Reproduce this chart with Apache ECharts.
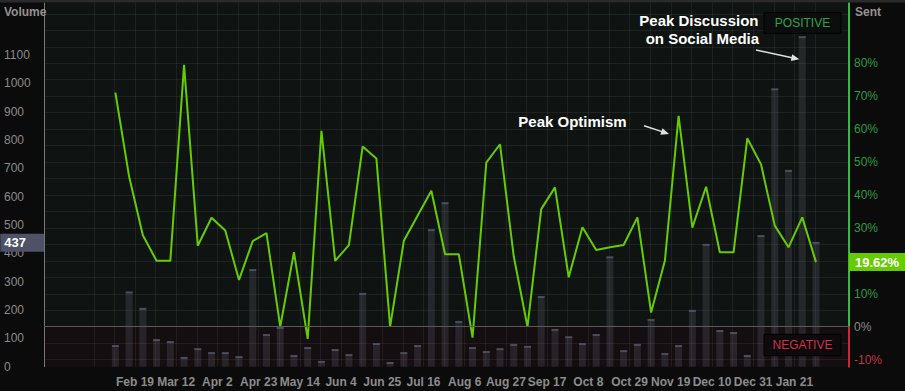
<!DOCTYPE html>
<html><head><meta charset="utf-8">
<script src="https://cdn.jsdelivr.net/npm/echarts@6/dist/echarts.min.js"></script>
<style>html,body{margin:0;padding:0;background:#0b0b0b;}#c{width:905px;height:391px;}</style>
</head><body><div id="c"></div>
<script>
// ---- data ----
const weekDates = [
 '2018-02-09','2018-02-16','2018-02-23','2018-03-02','2018-03-09','2018-03-16','2018-03-23','2018-03-30',
 '2018-04-06','2018-04-13','2018-04-20','2018-04-27','2018-05-04','2018-05-11','2018-05-18','2018-05-25',
 '2018-06-01','2018-06-08','2018-06-15','2018-06-22','2018-06-29','2018-07-06','2018-07-13','2018-07-20',
 '2018-07-27','2018-08-03','2018-08-10','2018-08-17','2018-08-24','2018-08-31','2018-09-07','2018-09-14',
 '2018-09-21','2018-09-28','2018-10-05','2018-10-12','2018-10-19','2018-10-26','2018-11-02','2018-11-09',
 '2018-11-16','2018-11-23','2018-11-30','2018-12-07','2018-12-14','2018-12-21','2018-12-28','2019-01-04',
 '2019-01-11','2019-01-18','2019-01-25','2019-02-01'];
const volumes = [73,262,204,94,87,31,62,48,48,34,341,112,137,38,66,17,59,41,257,80,13,48,73,482,577,158,66,52,62,77,70,246,130,104,80,112,386,55,77,165,45,73,197,430,126,119,38,461,979,691,1163,437];
const sentiment = [71.1,45.6,27.8,20.0,20.0,79.5,24.6,33.1,29.2,14.2,26.0,28.4,0,22.6,-3.7,59.5,20.0,24.8,54.7,51.1,0,26.1,33.7,41.3,22.0,22.0,-3.3,49.8,55.4,21.3,0,35.7,42.3,15.0,30.2,23.3,24.1,24.8,33.2,4.3,20.0,64.0,30.1,42.5,22.6,22.6,57.2,49.3,30.7,24.1,33.2,19.62];
const xTickLabels = ['Feb 19','Mar 12','Apr 2','Apr 23','May 14','Jun 4','Jun 25','Jul 16','Aug 6','Aug 27','Sep 17','Oct 8','Oct 29','Nov 19','Dec 10','Dec 31','Jan 21'];
const volumeTicks = [0,100,200,300,400,500,600,700,800,900,1000,1100];
const sentTicks = [-10,0,10,30,40,50,60,70,80]; // 20% is hidden under the current-value tag

// ---- helpers ----
const origin = Date.UTC(2018,0,29);
const dayOf = s => (Date.parse(s + 'T00:00:00Z') - origin) / 864e5;
const days = weekDates.map(dayOf);
const FONT = '"Liberation Sans", Arial, sans-serif';
const lastVol = volumes[volumes.length-1];
const lastSent = sentiment[sentiment.length-1];

// geometry
const PL = 44, PR = 905-849, PT = 3, PB = 391-366.7, ZERO_Y = 326.7;
const pxPerDay = 1.9625, pxPerVol = 0.28336, pxPerPct = 3.293;
const dMin = 21 + (PL-135)/pxPerDay, dMax = 21 + (849-135)/pxPerDay;
const volMax = (366.7-PT)/pxPerVol;
const sMax = (ZERO_Y-PT)/pxPerPct, sMin = -(366.7-ZERO_Y)/pxPerPct;

const gridCol = 'rgba(255,255,255,0.06)';
const clear = 'rgba(0,0,0,0)';
const chart = echarts.init(document.getElementById('c'), null, {renderer:'svg'});
chart.setOption({
  animation:false,
  backgroundColor:'#0b0b0b',
  textStyle:{fontFamily:FONT},
  grid:[
    {left:PL,right:PR,top:PT,bottom:PB},                                   // 0 data
    {left:PL,right:PR,top:PT,bottom:391-ZERO_Y,show:true,backgroundColor:'#0f1412',borderWidth:0,z:-1}, // 1 positive
    {left:PL,right:PR,top:ZERO_Y,bottom:PB,show:true,backgroundColor:'#150e10',borderWidth:0,z:-1},     // 2 negative
    {left:PL,right:PR,top:366.7-1200*pxPerVol,bottom:PB},                   // 3 volume labels
    {left:PL,right:PR,top:ZERO_Y-95*pxPerPct,bottom:391-(ZERO_Y+10*pxPerPct)}, // 4 sentiment labels/grid
    {left:135-21*pxPerDay,right:905-(135+346.5*pxPerDay),top:PT,bottom:PB}  // 5 date labels/grid
  ],
  xAxis:[
    {gridIndex:0,type:'value',min:dMin,max:dMax,show:false},
    {gridIndex:1,type:'value',min:0,max:1,show:false},
    {gridIndex:2,type:'value',min:0,max:1,show:false},
    {gridIndex:3,type:'value',min:0,max:1,show:false},
    {gridIndex:4,type:'value',min:0,max:1,show:false},
    {gridIndex:5,type:'value',min:0,max:367.5,interval:10.5,z:1,
     axisLine:{show:false},axisTick:{show:false},
     splitLine:{show:true,lineStyle:{color:gridCol,width:1}},
     axisLabel:{margin:9,color:'#8c8c8c',fontWeight:'bold',fontSize:12,
       formatter:v=>{const k=Math.round(v/10.5); if(k%2) return ''; return xTickLabels[k/2-1]||'';}}}
  ],
  yAxis:[
    {gridIndex:0,type:'value',position:'left',min:0,max:volMax,z:3,
     axisLine:{show:true,onZero:false,lineStyle:{color:'#777',width:1}},axisTick:{show:false},axisLabel:{show:false},splitLine:{show:false}},
    {gridIndex:0,type:'value',position:'right',min:sMin,max:sMax,show:false},
    {gridIndex:1,type:'value',position:'right',z:3,axisLine:{show:true,onZero:false,lineStyle:{color:'#3cb54a',width:2}},
     axisTick:{show:false},axisLabel:{show:false},splitLine:{show:false}},
    {gridIndex:2,type:'value',position:'right',z:3,axisLine:{show:true,onZero:false,lineStyle:{color:'#c8283c',width:2}},
     axisTick:{show:false},axisLabel:{show:false},splitLine:{show:false}},
    {gridIndex:3,type:'value',position:'left',min:0,max:1200,interval:100,
     axisLine:{show:false,onZero:false},axisTick:{show:false},splitLine:{show:false},
     axisLabel:{align:'left',margin:40,color:'#8a8a8a',fontSize:12,
       formatter:v=>volumeTicks.indexOf(v)>=0?String(v):''}},
    {gridIndex:4,type:'value',position:'right',min:-10,max:95,interval:5,z:1,
     axisLine:{show:false,onZero:false},axisTick:{show:false},
     splitLine:{show:true,lineStyle:{color:gridCol,width:1}},
     axisLabel:{margin:5,fontSize:12,
       color:v=>{v=Number(v); return v>0?'#2f9a45':(v<0?'#c8304a':'#8a8a8a');},
       formatter:v=>{const r=Math.round(v); return sentTicks.indexOf(r)>=0&&Math.abs(v-r)<1e-6? r+'%':'';}}},
    {gridIndex:5,type:'value',show:false}
  ],
  series:[
    {type:'bar',xAxisIndex:0,yAxisIndex:0,barWidth:7,z:2,silent:true,clip:false,
     itemStyle:{color:'rgba(120,122,140,0.2)'},
     data:volumes.map((v,i)=>[days[i],v]),
     markLine:{silent:true,symbol:'none',animation:false,z:10,
       lineStyle:{color:clear,width:0,opacity:1},
       label:{show:true,position:'start',distance:0,opacity:1,formatter:()=>String(lastVol),
         backgroundColor:'#4f5266',color:'#fff',fontWeight:'bold',fontSize:13,padding:[3,18,2,4]},
       data:[{yAxis:lastVol}]}},
    {type:'scatter',xAxisIndex:0,yAxisIndex:0,symbol:'rect',symbolSize:[7,2],z:3,silent:true,
     itemStyle:{color:'#575a6c'},
     data:volumes.map((v,i)=>[days[i],v])},
    {type:'line',xAxisIndex:0,yAxisIndex:1,symbol:'none',z:4,silent:true,clip:false,
     lineStyle:{color:'#66cc00',width:2},itemStyle:{color:'#66cc00'},
     data:sentiment.map((s,i)=>[days[i],s]),
     markLine:{silent:true,symbol:'none',animation:false,
       data:[
         {yAxis:0,lineStyle:{color:'#5a5a5a',width:1,type:'solid',opacity:1},label:{show:false}},
         {yAxis:lastSent,lineStyle:{color:clear,width:0,opacity:1},
          label:{show:true,position:'end',distance:0,opacity:1,formatter:p=>p.value+'%',
            backgroundColor:'#66cc00',color:'#fff',fontWeight:'bold',fontSize:13,padding:[3,6,2,6]}}
       ]}}
  ],
  graphic:[
    {type:'rect',z:100,shape:{x:0,y:0,width:905,height:2.5},style:{fill:'#2a2a2a'}},
    {type:'text',z:100,x:4,y:12,style:{text:'Volume',fill:'#939393',font:'bold 12px '+FONT,verticalAlign:'middle'}},
    {type:'text',z:100,x:855,y:12,style:{text:'Sent',fill:'#939393',font:'bold 12px '+FONT,verticalAlign:'middle'}},
    {type:'rect',z:100,shape:{x:764,y:12.7,width:77,height:20.6},style:{fill:'#0b0e0c',stroke:'#000',lineWidth:1}},
    {type:'text',z:101,x:802.5,y:23,style:{text:'POSITIVE',fill:'#2fa24e',font:'12px '+FONT,align:'center',verticalAlign:'middle'}},
    {type:'rect',z:100,shape:{x:764,y:334.3,width:77,height:21.4},style:{fill:'#0e0a0b',stroke:'#000',lineWidth:1}},
    {type:'text',z:101,x:802.5,y:345,style:{text:'NEGATIVE',fill:'#d0304a',font:'12px '+FONT,align:'center',verticalAlign:'middle'}},
    {type:'text',z:100,x:518.3,y:121.5,style:{text:'Peak Optimism',fill:'#fff',font:'bold 15px '+FONT,verticalAlign:'middle'}},
    {type:'line',z:100,shape:{x1:644,y1:125.7,x2:662,y2:131.6},style:{stroke:'#e0e0e0',lineWidth:1.5}},
    {type:'polygon',z:100,shape:{points:[[669,134],[660.3,134.8],[662.5,128.2]]},style:{fill:'#e0e0e0'}},
    {type:'text',z:100,x:639.3,y:20,style:{text:'Peak Discussion',fill:'#fff',font:'bold 15px '+FONT,verticalAlign:'middle'}},
    {type:'text',z:100,x:645.7,y:38.3,style:{text:'on Social Media',fill:'#fff',font:'bold 15px '+FONT,verticalAlign:'middle'}},
    {type:'line',z:100,shape:{x1:756,y1:50,x2:792,y2:57.7},style:{stroke:'#e0e0e0',lineWidth:1.5}},
    {type:'polygon',z:100,shape:{points:[[799.3,59.3],[790.8,61.0],[792.2,54.2]]},style:{fill:'#e0e0e0'}}
  ]
});
</script></body></html>
